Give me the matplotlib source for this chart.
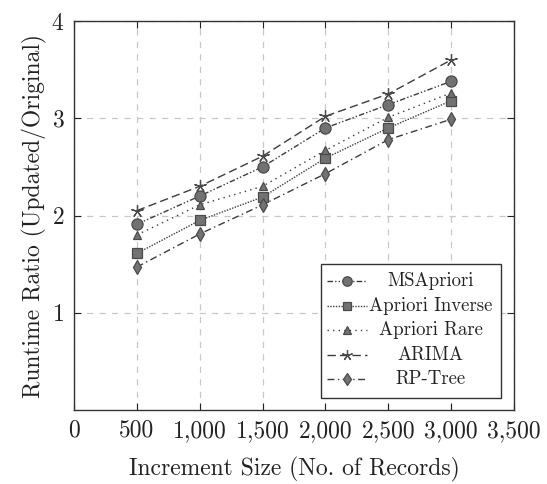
import matplotlib
matplotlib.use('Agg')
import matplotlib.pyplot as plt
from matplotlib.patches import Rectangle

plt.rcParams['font.family'] = ['cmr10', 'DejaVu Serif']
plt.rcParams['axes.formatter.use_mathtext'] = True
plt.rcParams['mathtext.fontset'] = 'cm'

# increment sizes
sizes = [500, 1000, 1500, 2000, 2500, 3000]

# runtime ratios
msapriori = [1.91, 2.20, 2.50, 2.90, 3.14, 3.38]
apriori_inverse = [1.61, 1.95, 2.19, 2.59, 2.90, 3.18]
apriori_rare = [1.80, 2.11, 2.30, 2.67, 3.01, 3.26]
arima = [2.05, 2.30, 2.61, 3.02, 3.25, 3.60]
rp_tree = [1.47, 1.81, 2.11, 2.43, 2.78, 2.99]

x_ticks = [0, 500, 1000, 1500, 2000, 2500, 3000, 3500]
x_labels = ['0', '500', '1,000', '1,500', '2,000', '2,500', '3,000', '3,500']
y_ticks = [1, 2, 3, 4]

line_col = '#3c3c3c'
mk_face = '#727272'
mk_edge = '#4a4a4a'
txt_col = '#222222'

fig = plt.figure(figsize=(5.47, 4.84), dpi=100)
ax = fig.add_axes([0.1353, 0.1529, 0.8044, 0.8037])

series = [
    ('MSApriori', msapriori, 'o', (0, (4, 1.5, 1, 1.5, 1, 1.5)), 8),
    ('Apriori Inverse', apriori_inverse, 's', (0, (1, 1)), 7.5),
    ('Apriori Rare', apriori_rare, '^', (0, (1, 3)), 6),
    ('ARIMA', arima, (5, 2, 0), (0, (6, 3)), 9),
    ('RP-Tree', rp_tree, 'd', (0, (5, 2.5, 1, 2.5)), 7),
]

for name, vals, mk, ls, ms in series:
    ax.plot(sizes, vals, color=line_col, linestyle=ls, linewidth=1.0,
            marker=mk, markersize=ms, markerfacecolor=mk_face,
            markeredgecolor=mk_edge, markeredgewidth=0.9, label=name)

ax.set_xlim(0, 3500)
ax.set_ylim(0, 4)
ax.set_xticks(x_ticks)
ax.set_xticklabels(x_labels)
ax.set_yticks(y_ticks)
ax.tick_params(direction='in', top=True, right=True, length=5,
               labelsize=17, colors=txt_col, pad=7)
ax.grid(True, color='#c8c8c8', linestyle=(0, (5, 5)), linewidth=0.9)
ax.set_axisbelow(True)
for sp in ax.spines.values():
    sp.set_color('#333333')
    sp.set_linewidth(1.0)

ax.set_xlabel('Increment Size (No. of Records)', fontsize=17, color=txt_col, labelpad=11)
ax.set_ylabel('Runtime Ratio (Updated/Original)', fontsize=17, color=txt_col, labelpad=3)

# legend drawn by hand so the labels can be centred like pgfplots does
ax.add_patch(Rectangle((0.561, 0.031), 0.409, 0.344, transform=ax.transAxes,
                       facecolor='white', edgecolor='#333333', linewidth=1.0,
                       zorder=5, clip_on=False))
rows_y = [0.332, 0.268, 0.206, 0.141, 0.079]
for (name, vals, mk, ls, ms), ry in zip(series, rows_y):
    ax.plot([0.575, 0.666], [ry, ry], transform=ax.transAxes, color=line_col,
            linestyle=ls, linewidth=1.0, zorder=6, clip_on=False)
    ax.plot([0.620], [ry], transform=ax.transAxes, marker=mk, markersize=ms * 0.85,
            markerfacecolor=mk_face, markeredgecolor=mk_edge,
            markeredgewidth=0.9, zorder=7, clip_on=False)
    ax.text(0.811, ry, name, transform=ax.transAxes, ha='center', va='center',
            fontsize=13.5, color=txt_col, zorder=7)

fig.savefig('out.png', dpi=100)
